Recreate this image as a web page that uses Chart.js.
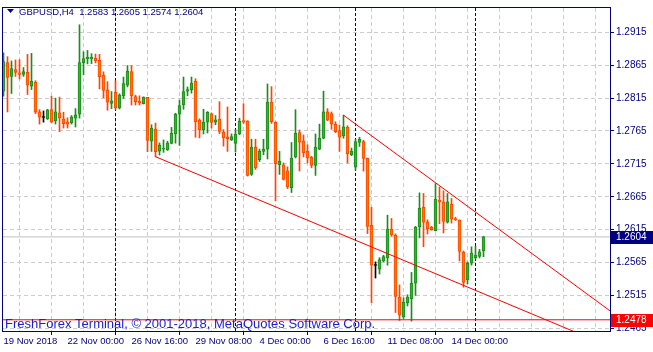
<!DOCTYPE html>
<html>
<head>
<meta charset="UTF-8">
<title>GBPUSD,H4</title>
<script src="https://cdn.jsdelivr.net/npm/chart.js@4"></script>
<style>
  html, body { margin: 0; padding: 0; background: #fff; }
  #wrap { width: 653px; height: 352px; }
</style>
</head>
<body>
<div id="wrap"><canvas id="chart" width="653" height="352"></canvas></div>
<script>
// H4 candles, one per bar index (0 = 19 Nov 2018 08:00)
const opens = [
  1.28255, 1.2869, 1.2848, 1.28585, 1.28535, 1.2851, 1.2854, 1.2833, 1.2839, 1.2794,
  1.27855, 1.27835, 1.27975, 1.27805, 1.27925, 1.27835, 1.2779, 1.27775, 1.27845, 1.27905,
  1.2869, 1.28745, 1.28745, 1.28755, 1.28725, 1.2850, 1.28275, 1.2807, 1.2824, 1.2800,
  1.28185, 1.28345, 1.28555, 1.28175, 1.28105, 1.28065, 1.2816, 1.27495, 1.2768, 1.27345,
  1.27375, 1.27365, 1.2746, 1.27605, 1.27905, 1.28045, 1.28255, 1.2828, 1.28405, 1.27815,
  1.2767, 1.27785, 1.2791, 1.27785, 1.2783, 1.27635, 1.2756, 1.27515, 1.2746, 1.27605,
  1.2781, 1.27805, 1.2699, 1.27405, 1.27215, 1.2734, 1.27375, 1.2809, 1.2778, 1.2714,
  1.27135, 1.27045, 1.2679, 1.27255, 1.27625, 1.27495, 1.27345, 1.27255, 1.27125, 1.27375,
  1.2754, 1.2794, 1.27915, 1.2775, 1.27655, 1.27575, 1.27705, 1.2729, 1.2710, 1.27475,
  1.2749, 1.27235, 1.26215, 1.25605, 1.2555, 1.25675, 1.25725, 1.2616, 1.26065, 1.25125,
  1.24825, 1.25035, 1.251, 1.25335, 1.2619, 1.2649, 1.2627, 1.2619, 1.26135, 1.266,
  1.26575, 1.26265, 1.26535, 1.2632, 1.26295, 1.2581, 1.25385, 1.2564, 1.25725, 1.25745,
  1.2583
];
const highs = [
  1.2884, 1.2878, 1.28715, 1.2873, 1.28735, 1.28615, 1.28815, 1.2883, 1.28415, 1.27975,
  1.27955, 1.2798, 1.2818, 1.2815, 1.28165, 1.27935, 1.2785, 1.27885, 1.2799, 1.29265,
  1.28855, 1.28875, 1.28825, 1.2882, 1.28815, 1.2855, 1.284, 1.2825, 1.28415, 1.28215,
  1.2847, 1.28645, 1.28645, 1.28195, 1.28185, 1.2817, 1.2816, 1.27745, 1.2777, 1.2747,
  1.27515, 1.27495, 1.27705, 1.2792, 1.2812, 1.2847, 1.2832, 1.2847, 1.28445, 1.27835,
  1.2798, 1.27945, 1.27925, 1.27885, 1.28095, 1.2767, 1.28015, 1.27605, 1.2767, 1.27845,
  1.28065, 1.27805, 1.27525, 1.27525, 1.27375, 1.27525, 1.28365, 1.28325, 1.2779, 1.2734,
  1.27165, 1.27105, 1.27475, 1.27975, 1.27665, 1.2759, 1.2744, 1.27265, 1.27605, 1.27755,
  1.28255, 1.2799, 1.2794, 1.2779, 1.2774, 1.2789, 1.2773, 1.2739, 1.27525, 1.27555,
  1.2751, 1.2724, 1.2649, 1.2566, 1.25725, 1.2576, 1.2637, 1.2632, 1.26085, 1.2531,
  1.25115, 1.2516, 1.255, 1.262, 1.2671, 1.267, 1.263, 1.262, 1.2685, 1.268,
  1.2674, 1.267, 1.26625, 1.2634, 1.263, 1.25825, 1.2566, 1.2589, 1.259, 1.2585,
  1.2605
];
const lows = [
  1.2818, 1.2794, 1.2822, 1.2848, 1.2844, 1.2848, 1.28205, 1.2828, 1.27915, 1.27755,
  1.27785, 1.27825, 1.2778, 1.27755, 1.2764, 1.27695, 1.27695, 1.27755, 1.2771, 1.27845,
  1.28505, 1.2867, 1.28675, 1.28685, 1.2829, 1.28155, 1.27965, 1.2799, 1.27975, 1.27985,
  1.28145, 1.2832, 1.28045, 1.28045, 1.28045, 1.2806, 1.27335, 1.2734, 1.27255, 1.27285,
  1.27325, 1.27355, 1.27455, 1.27465, 1.2743, 1.2798, 1.28185, 1.28225, 1.27555, 1.27545,
  1.27605, 1.2762, 1.27695, 1.27745, 1.2761, 1.2742, 1.2734, 1.27505, 1.2733, 1.27595,
  1.27765, 1.26965, 1.26975, 1.27065, 1.27185, 1.2729, 1.27225, 1.27765, 1.26586, 1.2699,
  1.26905, 1.26775, 1.26715, 1.2724, 1.2704, 1.27255, 1.27165, 1.2709, 1.26975, 1.27365,
  1.2753, 1.27805, 1.27675, 1.27625, 1.2734, 1.2754, 1.27165, 1.27275, 1.27055, 1.27415,
  1.2704, 1.2609, 1.2504, 1.25415, 1.25475, 1.2566, 1.2561, 1.2605, 1.2489, 1.2477,
  1.248, 1.2499, 1.2476, 1.2515, 1.26025, 1.2589, 1.26085, 1.2614, 1.2613, 1.2624,
  1.261, 1.2625, 1.2625, 1.2629, 1.25675, 1.25275, 1.25325, 1.2561, 1.257, 1.2572,
  1.2574
];
const closes = [
  1.28705, 1.28465, 1.2860, 1.2854, 1.2851, 1.28555, 1.28345, 1.28405, 1.27935, 1.2786,
  1.27855, 1.2797, 1.27785, 1.2794, 1.2785, 1.2776, 1.27755, 1.27865, 1.27895, 1.2869,
  1.2875, 1.2877, 1.2877, 1.28715, 1.28475, 1.28265, 1.2809, 1.2811, 1.2800, 1.28195,
  1.2837, 1.2856, 1.28185, 1.28095, 1.2808, 1.2816, 1.27505, 1.27695, 1.27335, 1.27435,
  1.2739, 1.27465, 1.27615, 1.27905, 1.28035, 1.2825, 1.2828, 1.2838, 1.2779, 1.2767,
  1.27785, 1.27935, 1.2778, 1.2782, 1.27645, 1.27545, 1.27535, 1.27565, 1.276, 1.2780,
  1.27785, 1.26975, 1.27405, 1.2709, 1.2734, 1.27375, 1.2809, 1.2779, 1.27155, 1.2719,
  1.26915, 1.268, 1.2724, 1.27615, 1.2748, 1.27315, 1.2724, 1.27125, 1.27405, 1.2754,
  1.2794, 1.27815, 1.27755, 1.2764, 1.27555, 1.27715, 1.27305, 1.27345, 1.2749, 1.27525,
  1.27235, 1.262, 1.2561, 1.25605, 1.25695, 1.2574, 1.2616, 1.26075, 1.25135, 1.2485,
  1.2505, 1.25125, 1.25335, 1.2619, 1.26475, 1.26265, 1.2616, 1.2615, 1.2661, 1.2657,
  1.26275, 1.26575, 1.2631, 1.263, 1.2582, 1.2535, 1.2564, 1.25795, 1.25765, 1.25815,
  1.2604
];

// time axis: label every 16 bars, dashed grid every 8 bars
const labelBars = [0, 16, 32, 48, 64, 80, 96, 112];
const dateLabels = ['19 Nov 2018', '22 Nov 00:00', '26 Nov 16:00', '29 Nov 08:00',
                    '4 Dec 00:00', '6 Dec 16:00', '11 Dec 08:00', '14 Dec 00:00'];
const gridBars = [0, 8, 16, 24, 32, 40, 48, 56, 64, 72, 80, 88, 96, 104, 112, 120, 128, 136, 144];
const separators = [28, 58, 88, 118];   // weekly period separators

const priceTicks = [1.2465, 1.2515, 1.2565, 1.2615, 1.2665, 1.2715, 1.2765, 1.2815, 1.2865, 1.2915];

// objects on the chart
const bidPrice = 1.2604;
const levelPrice = 1.2478;
const lowerTrend = [{x: 38, y: 1.27259}, {x: 151.625, y: 1.24373}];
const upperTrend = [{x: 85, y: 1.2789}, {x: 151.625, y: 1.24916}];

const headerText = 'GBPUSD,H4  1.2583 1.2605 1.2574 1.2604';
const copyrightText = 'FreshForex Terminal, \u00A9 2001-2018, MetaQuotes Software Corp.';

const NAVY = '#000080';
const FONT = '"Liberation Sans", Arial, sans-serif';

const idx = opens.map((_, i) => i);
const dir = i => closes[i] > opens[i] ? 1 : (closes[i] < opens[i] ? -1 : 0);
const edgeColor = i => dir(i) > 0 ? '#1f8a1f' : (dir(i) < 0 ? '#ff4500' : '#000000');
const fillColor = i => dir(i) > 0 ? '#2db52d' : (dir(i) < 0 ? '#ff8000' : '#000000');

const X_MIN = -0.125, X_MAX = 151.625;

const mt4Decor = {
  id: 'mt4Decor',
  beforeDatasetsDraw(chart) {
    const {ctx, chartArea: a, scales: {x}} = chart;
    ctx.save();
    ctx.strokeStyle = NAVY;
    ctx.lineWidth = 1;
    ctx.setLineDash([3, 2]);
    separators.forEach(b => {
      const px = Math.round(x.getPixelForValue(b) - 0.5) + 0.5;
      ctx.beginPath();
      ctx.moveTo(px, a.top);
      ctx.lineTo(px, a.bottom);
      ctx.stroke();
    });
    ctx.restore();
  },
  afterDraw(chart) {
    const {ctx, chartArea: a, scales: {y}} = chart;
    ctx.save();
    // frame
    ctx.strokeStyle = NAVY;
    ctx.lineWidth = 1;
    ctx.strokeRect(a.left - 0.5, a.top - 0.5, a.right - a.left + 1, a.bottom - a.top + 1);

    // header
    ctx.fillStyle = NAVY;
    ctx.beginPath();
    ctx.moveTo(7, 9); ctx.lineTo(14, 9); ctx.lineTo(10.5, 13); ctx.closePath();
    ctx.fill();
    ctx.font = '9.5px ' + FONT;
    ctx.textBaseline = 'middle';
    ctx.textAlign = 'left';
    ctx.fillText(headerText, 19, 12);

    // copyright
    ctx.fillStyle = '#1c1cd0';
    ctx.font = '13px ' + FONT;
    ctx.fillText(copyrightText, 5, 324);

    // price boxes on the axis
    ctx.font = '10px ' + FONT;
    [[bidPrice, NAVY], [levelPrice, '#ff0000']].forEach(([p, c]) => {
      const py = Math.round(y.getPixelForValue(p));
      ctx.fillStyle = c;
      ctx.fillRect(a.right + 1, py - 6, 42, 13);
      ctx.fillStyle = '#ffffff';
      ctx.fillText(p.toFixed(4), a.right + 6, py + 0.5);
    });
    ctx.restore();
  }
};

new Chart(document.getElementById('chart'), {
  type: 'bar',
  data: {
    datasets: [
      {
        type: 'line', data: [{x: X_MIN, y: bidPrice}, {x: X_MAX, y: bidPrice}],
        borderColor: '#c0c0c0', borderWidth: 1, pointRadius: 0, order: 5
      },
      {
        label: 'wicks',
        data: idx.map(i => ({x: i, y: [lows[i], highs[i]]})),
        backgroundColor: idx.map(edgeColor),
        borderWidth: 0,
        barThickness: 1, maxBarThickness: 1,
        categoryPercentage: 1, barPercentage: 1,
        grouped: false, order: 4
      },
      {
        label: 'bodies',
        data: idx.map(i => ({x: i, y: [opens[i], closes[i]]})),
        backgroundColor: idx.map(fillColor),
        borderColor: idx.map(edgeColor),
        borderWidth: 1, borderSkipped: false,
        barThickness: 3, maxBarThickness: 3,
        categoryPercentage: 1, barPercentage: 1,
        minBarLength: 1,
        grouped: false, order: 3
      },
      {
        type: 'line', data: [{x: X_MIN, y: levelPrice}, {x: X_MAX, y: levelPrice}],
        borderColor: '#ff0000', borderWidth: 1, pointRadius: 0, order: 1
      },
      {
        type: 'line', data: lowerTrend,
        borderColor: '#ff0000', borderWidth: 1, pointRadius: 0, order: 1
      },
      {
        type: 'line', data: upperTrend,
        borderColor: '#ff0000', borderWidth: 1, pointRadius: 0, order: 1
      }
    ]
  },
  options: {
    responsive: false,
    animation: false,
    devicePixelRatio: 1,
    events: [],
    layout: { padding: { left: 3, top: 3, right: 0, bottom: 0 } },
    plugins: { legend: { display: false }, tooltip: { enabled: false } },
    scales: {
      x: {
        type: 'linear',
        offset: false,
        min: X_MIN,
        max: X_MAX,
        afterBuildTicks: s => { s.ticks = gridBars.map(v => ({value: v})); },
        afterFit: s => { s.height = 21; },
        grid: {
          color: '#cccccc',
          tickLength: 4,
          tickColor: c => (c.tick && labelBars.includes(c.tick.value)) ? NAVY : 'rgba(0,0,0,0)'
        },
        border: { display: false, dash: [4, 3] },
        ticks: {
          align: 'start',
          maxRotation: 0,
          autoSkip: false,
          padding: 1,
          color: NAVY,
          font: { family: FONT, size: 9.5 },
          callback: v => {
            const k = labelBars.indexOf(v);
            return k >= 0 ? dateLabels[k] : '';
          }
        }
      },
      y: {
        type: 'linear',
        position: 'right',
        min: 1.246096,
        max: 1.295198,
        afterBuildTicks: s => { s.ticks = priceTicks.map(v => ({value: v})); },
        afterFit: s => { s.width = 43; },
        grid: { color: '#cccccc', tickLength: 4, tickColor: NAVY },
        border: { display: false, dash: [4, 3] },
        ticks: {
          padding: 2,
          color: NAVY,
          font: { family: FONT, size: 10 },
          callback: v => v.toFixed(4)
        }
      }
    }
  },
  plugins: [mt4Decor]
});
</script>
</body>
</html>
